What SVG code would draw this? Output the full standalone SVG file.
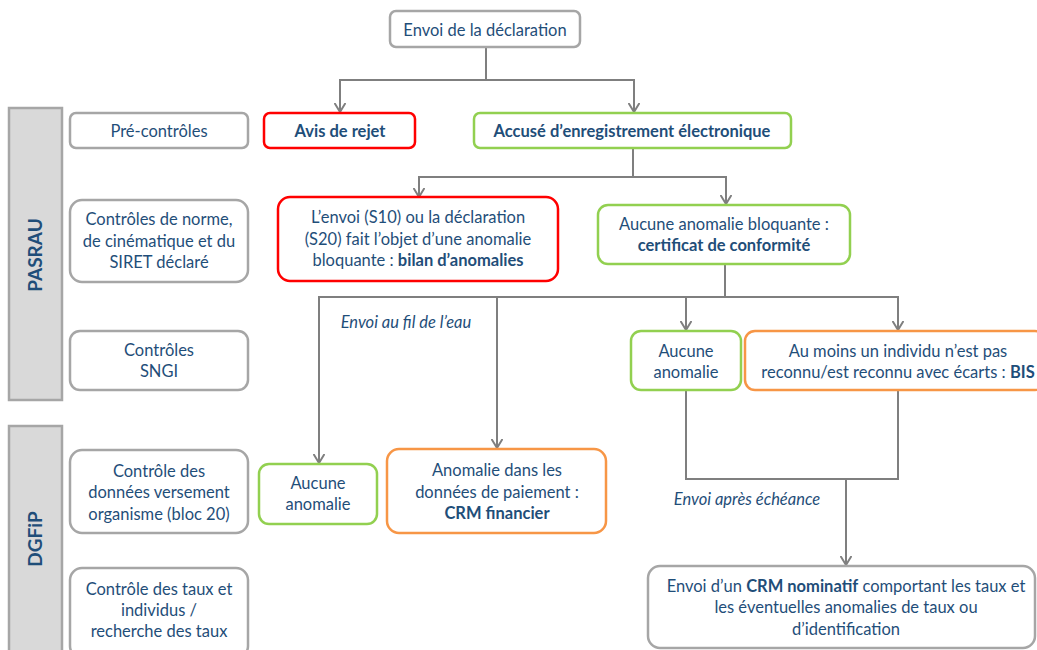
<svg xmlns="http://www.w3.org/2000/svg" width="1037" height="650" viewBox="0 0 1037 650">
<defs>
<marker id="arr" markerUnits="userSpaceOnUse" viewBox="0 0 10 12" refX="9" refY="6" markerWidth="10" markerHeight="12" orient="auto">
<path d="M0,0.5 L9,6 L0,11.5" fill="none" stroke="#7f7f7f" stroke-width="2"/>
</marker>
<style>
text{font-family:Lato,"Open Sans","Liberation Sans",sans-serif;font-size:16.5px;fill:#1f4e79;text-anchor:middle}
.b{font-weight:bold}
.i{font-style:italic}
.g{fill:#fff;stroke:#a6a6a6;stroke-width:2.5}
.red{fill:#fff;stroke:#ff0000;stroke-width:2.5}
.grn{fill:#fff;stroke:#92d050;stroke-width:2.5}
.org{fill:#fff;stroke:#f79646;stroke-width:2.5}
.bar{fill:#d9d9d9;stroke:#a6a6a6;stroke-width:2.5}
.c{fill:none;stroke:#7f7f7f;stroke-width:2}
</style>
</defs>
<rect width="1037" height="650" fill="#fff"/>

<g id="connectors">
<polyline class="c" points="486,47 486,80 340,80 340,112" marker-end="url(#arr)"/>
<polyline class="c" points="486,80 634,80 634,112" marker-end="url(#arr)"/>
<polyline class="c" points="633,148 633,177 419,177 419,197" marker-end="url(#arr)"/>
<polyline class="c" points="633,177 726,177 726,204" marker-end="url(#arr)"/>
<polyline class="c" points="725,264 725,297 319,297 319,463" marker-end="url(#arr)"/>
<polyline class="c" points="497,297 497,448" marker-end="url(#arr)"/>
<polyline class="c" points="686,297 686,330" marker-end="url(#arr)"/>
<polyline class="c" points="725,297 898,297 898,330" marker-end="url(#arr)"/>
<polyline class="c" points="686,390 686,479 898,479 898,390"/>
<polyline class="c" points="846,479 846,565" marker-end="url(#arr)"/>
<text class="i" x="406" y="328">Envoi au fil de l’eau</text>
<text class="i" x="747" y="505">Envoi après échéance</text>
</g>

<g id="pasrau">
<rect class="bar" x="9" y="108" width="53" height="292"/>
<text class="b" transform="translate(42,255) rotate(-90)" style="font-size:19px">PASRAU</text>
</g>
<g id="dgfip">
<rect class="bar" x="9" y="426" width="53" height="240"/>
<text class="b" transform="translate(42,539) rotate(-90)" style="font-size:19px">DGFiP</text>
</g>

<g id="envoi">
<rect class="g" x="390" y="11" width="190" height="36" rx="6"/>
<text x="485" y="36">Envoi de la déclaration</text>
</g>
<g id="precontroles">
<rect class="g" x="70" y="113" width="178" height="35" rx="6"/>
<text x="159" y="137">Pré-contrôles</text>
</g>
<g id="rejet">
<rect class="red" x="264" y="113" width="151" height="35" rx="6"/>
<text class="b" x="340" y="137">Avis de rejet</text>
</g>
<g id="accuse">
<rect class="grn" x="474" y="113" width="317" height="35" rx="6"/>
<text class="b" x="632" y="137">Accusé d’enregistrement électronique</text>
</g>
<g id="norme">
<rect class="g" x="70" y="200" width="178" height="82" rx="12"/>
<text x="159" y="225">Contrôles de norme,</text>
<text x="159" y="247">de cinématique et du</text>
<text x="159" y="268">SIRET déclaré</text>
</g>
<g id="bilan">
<rect class="red" x="278" y="197" width="280" height="84" rx="12"/>
<text x="418" y="223">L’envoi (S10) ou la déclaration</text>
<text x="418" y="245">(S20) fait l’objet d’une anomalie</text>
<text x="418" y="266">bloquante : <tspan class="b">bilan d’anomalies</tspan></text>
</g>
<g id="certificat">
<rect class="grn" x="598" y="205" width="252" height="59" rx="10"/>
<text x="724" y="230">Aucune anomalie bloquante :</text>
<text class="b" x="724" y="251">certificat de conformité</text>
</g>
<g id="sngi">
<rect class="g" x="70" y="331" width="178" height="59" rx="10"/>
<text x="159" y="356">Contrôles</text>
<text x="159" y="377">SNGI</text>
</g>
<g id="aucune1">
<rect class="grn" x="631" y="331" width="110" height="59" rx="10"/>
<text x="686" y="357">Aucune</text>
<text x="686" y="378">anomalie</text>
</g>
<g id="bis">
<rect class="org" x="745" y="331" width="300" height="59" rx="10"/>
<text x="898" y="357">Au moins un individu n’est pas</text>
<text x="898" y="378">reconnu/est reconnu avec écarts : <tspan class="b">BIS</tspan></text>
</g>
<g id="versement">
<rect class="g" x="70" y="450" width="178" height="83" rx="12"/>
<text x="159" y="477">Contrôle des</text>
<text x="159" y="498">données versement</text>
<text x="159" y="520">organisme (bloc 20)</text>
</g>
<g id="aucune2">
<rect class="grn" x="259" y="464" width="118" height="60" rx="10"/>
<text x="318" y="489">Aucune</text>
<text x="318" y="510">anomalie</text>
</g>
<g id="financier">
<rect class="org" x="387" y="449" width="219" height="84" rx="12"/>
<text x="497" y="476">Anomalie dans les</text>
<text x="497" y="498">données de paiement :</text>
<text class="b" x="497" y="519">CRM financier</text>
</g>
<g id="taux">
<rect class="g" x="70" y="568" width="178" height="90" rx="12"/>
<text x="159" y="595">Contrôle des taux et</text>
<text x="159" y="616">individus /</text>
<text x="159" y="637">recherche des taux</text>
</g>
<g id="nominatif">
<rect class="g" x="648" y="566" width="387" height="82" rx="12"/>
<text x="846" y="592">Envoi d’un <tspan class="b">CRM nominatif</tspan> comportant les taux et</text>
<text x="846" y="613">les éventuelles anomalies de taux ou</text>
<text x="846" y="635">d’identification</text>
</g>
</svg>
